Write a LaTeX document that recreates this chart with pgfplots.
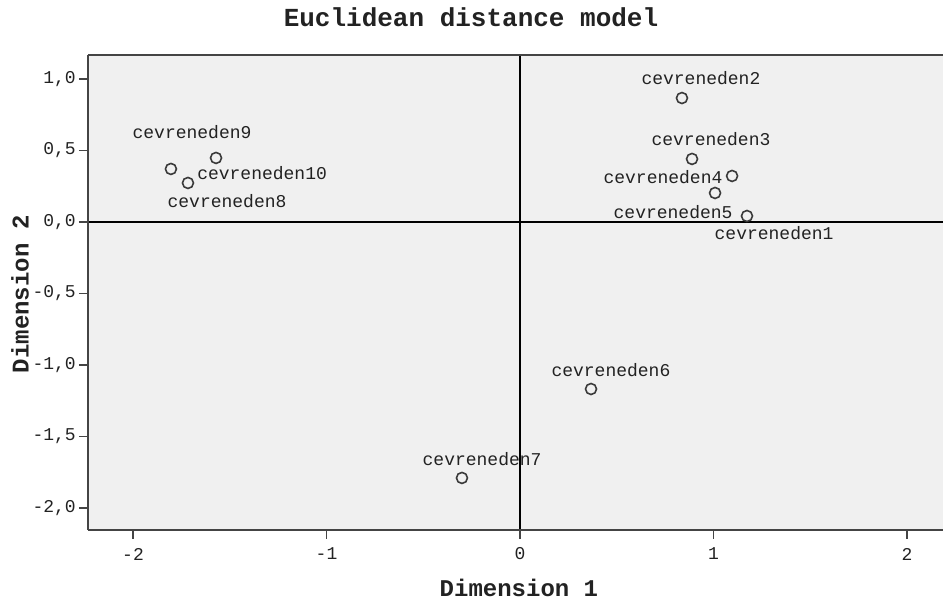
\documentclass[border=0pt]{standalone}
\usepackage{fontspec}
\setmainfont{Liberation Mono}
\usepackage{pgfplots}
\pgfplotsset{compat=1.18}
\definecolor{bg}{HTML}{F0F0F0}
\definecolor{frame}{HTML}{444444}
\definecolor{txt}{HTML}{222222}
\definecolor{mk}{HTML}{3A3A3A}
\begin{document}
\begin{tikzpicture}[x=1pt,y=1pt]
\useasboundingbox (-88,-71) rectangle (855,530);
\begin{axis}[
  at={(0,0)}, anchor=south west,
  scale only axis, width=855pt, height=475pt,
  xmin=-2.2326, xmax=2.186, ymin=-2.154, ymax=1.168,
  axis background/.style={fill=bg},
  axis line style={draw=none},
  tick align=outside, xtick pos=bottom, ytick pos=left,
  major tick length=9pt,
  tick style={frame, line width=1.3pt},
  xtick={-2,-1,0,1,2},
  xticklabels={-2,-1,0,1,2},
  ytick={-2,-1.5,-1,-0.5,0,0.5,1},
  yticklabels={{-2,0},{-1,5},{-1,0},{-0,5},{0,0},{0,5},{1,0}},
  tick label style={font=\fontsize{18}{20}\selectfont, text=txt, inner sep=0pt},
  xticklabel style={anchor=center, yshift=-15pt},
  yticklabel style={anchor=east, xshift=-3pt},
  xlabel={Dimension 1},
  ylabel={Dimension 2},
  xlabel style={at={(rel axis cs:0.504,-0.1221)}, anchor=center, font=\fontsize{24}{26}\selectfont\bfseries, text=txt, inner sep=0pt},
  ylabel style={at={(rel axis cs:-0.0795,0.497)}, anchor=center, font=\fontsize{24}{26}\selectfont\bfseries, text=txt, inner sep=0pt},
  clip=false,
  after end axis/.code={
    \draw[frame, line width=1.6pt] (rel axis cs:0,0) -- (rel axis cs:1,0);
    \draw[frame, line width=1.6pt] (rel axis cs:0,0) -- (rel axis cs:0,1);
    \draw[frame, line width=1.6pt] (rel axis cs:0,1) -- (rel axis cs:1,1);
  },
]
\draw[black, line width=1.5pt] (axis cs:0,-2.154) -- (axis cs:0,1.168);
\draw[black, line width=1.5pt] (axis cs:-2.2326,0) -- (axis cs:2.186,0);
\addplot[only marks, mark=o, mark size=5.5pt, mark options={draw=mk, line width=1.6pt}] coordinates {
  (1.173,0.042)
  (0.837,0.867)
  (0.889,0.441)
  (1.096,0.322)
  (1.008,0.203)
  (0.367,-1.168)
  (-0.300,-1.790)
  (-1.716,0.273)
  (-1.571,0.448)
  (-1.804,0.371)
};
\begin{scope}[every node/.style={font=\fontsize{18}{20}\selectfont, text=txt, inner sep=0pt, anchor=center}]
\node at (axis cs:1.313,-0.077) {cevreneden1};
\node at (axis cs:0.935,1.007) {cevreneden2};
\node at (axis cs:0.987,0.580) {cevreneden3};
\node at (axis cs:0.739,0.315) {cevreneden4};
\node at (axis cs:0.791,0.070) {cevreneden5};
\node at (axis cs:0.470,-1.035) {cevreneden6};
\node at (axis cs:-0.196,-1.657) {cevreneden7};
\node at (axis cs:-1.514,0.147) {cevreneden8};
\node at (axis cs:-1.695,0.629) {cevreneden9};
\node at (axis cs:-1.333,0.343) {cevreneden10};
\end{scope}
\end{axis}
\node[font=\fontsize{26}{28}\selectfont\bfseries, text=txt, inner sep=0pt] at (383,513) {Euclidean distance model};
\end{tikzpicture}
\end{document}
